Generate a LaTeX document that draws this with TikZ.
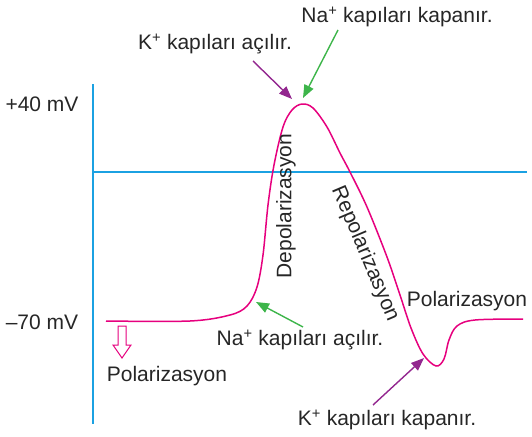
\documentclass[tikz,border=0pt]{standalone}
\usepackage{fontspec}
\setmainfont{Liberation Sans}
\usetikzlibrary{arrows.meta}
\definecolor{aplink}{HTML}{E6007E}
\definecolor{axisblue}{HTML}{1BA1E2}
\definecolor{nagreen}{HTML}{3DB54A}
\definecolor{kpurple}{HTML}{93278F}
\tikzset{
  lbl/.style={font=\fontsize{21}{25}\selectfont, text=black!85, inner sep=0pt},
  gatearrow/.style={line width=1.4pt, -{Triangle[length=13pt,width=10pt]}},
}

\begin{document}
\begin{tikzpicture}[x=1pt,y=-1pt]
  \useasboundingbox (0,0) rectangle (532,436);
  % Axes
  \coordinate (axtop) at (93,84);
  \coordinate (axbot) at (93,424);
  \coordinate (zeroend) at (527,172);
  \draw[axisblue, line width=1.2pt] (axtop) -- (axbot);
  \draw[axisblue, line width=1.2pt] (93,172) -- (zeroend);
  \node[lbl] (plus40) at (42,104) {+40 mV};
  \node[lbl] (minus70) at (42,322) {--70 mV};
  % Action potential
  \draw[aplink, line width=1.5pt] plot[smooth, tension=0.55] coordinates {
    (106,321) (190,321) (230,315) (247,306) (257,287) (263,255) (268,205)
    (274,165) (283,127) (292,110) (302,104) (313,108) (327,127) (340,153)
    (350,172) (367,207) (387,257) (400,295) (411,328) (423,354) (436,366)
    (444,359) (449,340) (457,326) (475,320) (523,319)};
  % Phase labels
  \node[lbl, rotate=90] (depol) at (286,206) {Depolarizasyon};
  \node[lbl, rotate=-67] (repol) at (365,254) {Repolarizasyon};
  \node[lbl] (polright) at (467,301) {Polarizasyon};
  \node[lbl] (polleft) at (167,376) {Polarizasyon};
  % Hollow arrow
  \draw[aplink, fill=white, line width=1pt]
    (118,326) -- (126,326) -- (126,345) -- (131,345) -- (122,358)
    -- (113,345) -- (118,345) -- cycle;
  % Gate labels
  \node[lbl] (naclose) at (397,17) {Na\textsuperscript{+} kapıları kapanır.};
  \node[lbl] (kopen) at (215,44) {K\textsuperscript{+} kapıları açılır.};
  \node[lbl] (naopen) at (300,340) {Na\textsuperscript{+} kapıları açılır.};
  \node[lbl] (kclose) at (387,420) {K\textsuperscript{+} kapıları kapanır.};
  % Gate arrows
  \coordinate (nacloseTail) at (338,30);
  \coordinate (nacloseTip) at (303,98);
  \coordinate (kopenTail) at (253,61);
  \coordinate (kopenTip) at (292,99);
  \coordinate (naopenTail) at (303,327);
  \coordinate (naopenTip) at (256,302);
  \coordinate (kcloseTail) at (373,405);
  \coordinate (kcloseTip) at (424,358);
  \draw[gatearrow, nagreen] (nacloseTail) -- (nacloseTip);
  \draw[gatearrow, kpurple] (kopenTail) -- (kopenTip);
  \draw[gatearrow, nagreen] (naopenTail) -- (naopenTip);
  \draw[gatearrow, kpurple] (kcloseTail) -- (kcloseTip);
\end{tikzpicture}
\end{document}
